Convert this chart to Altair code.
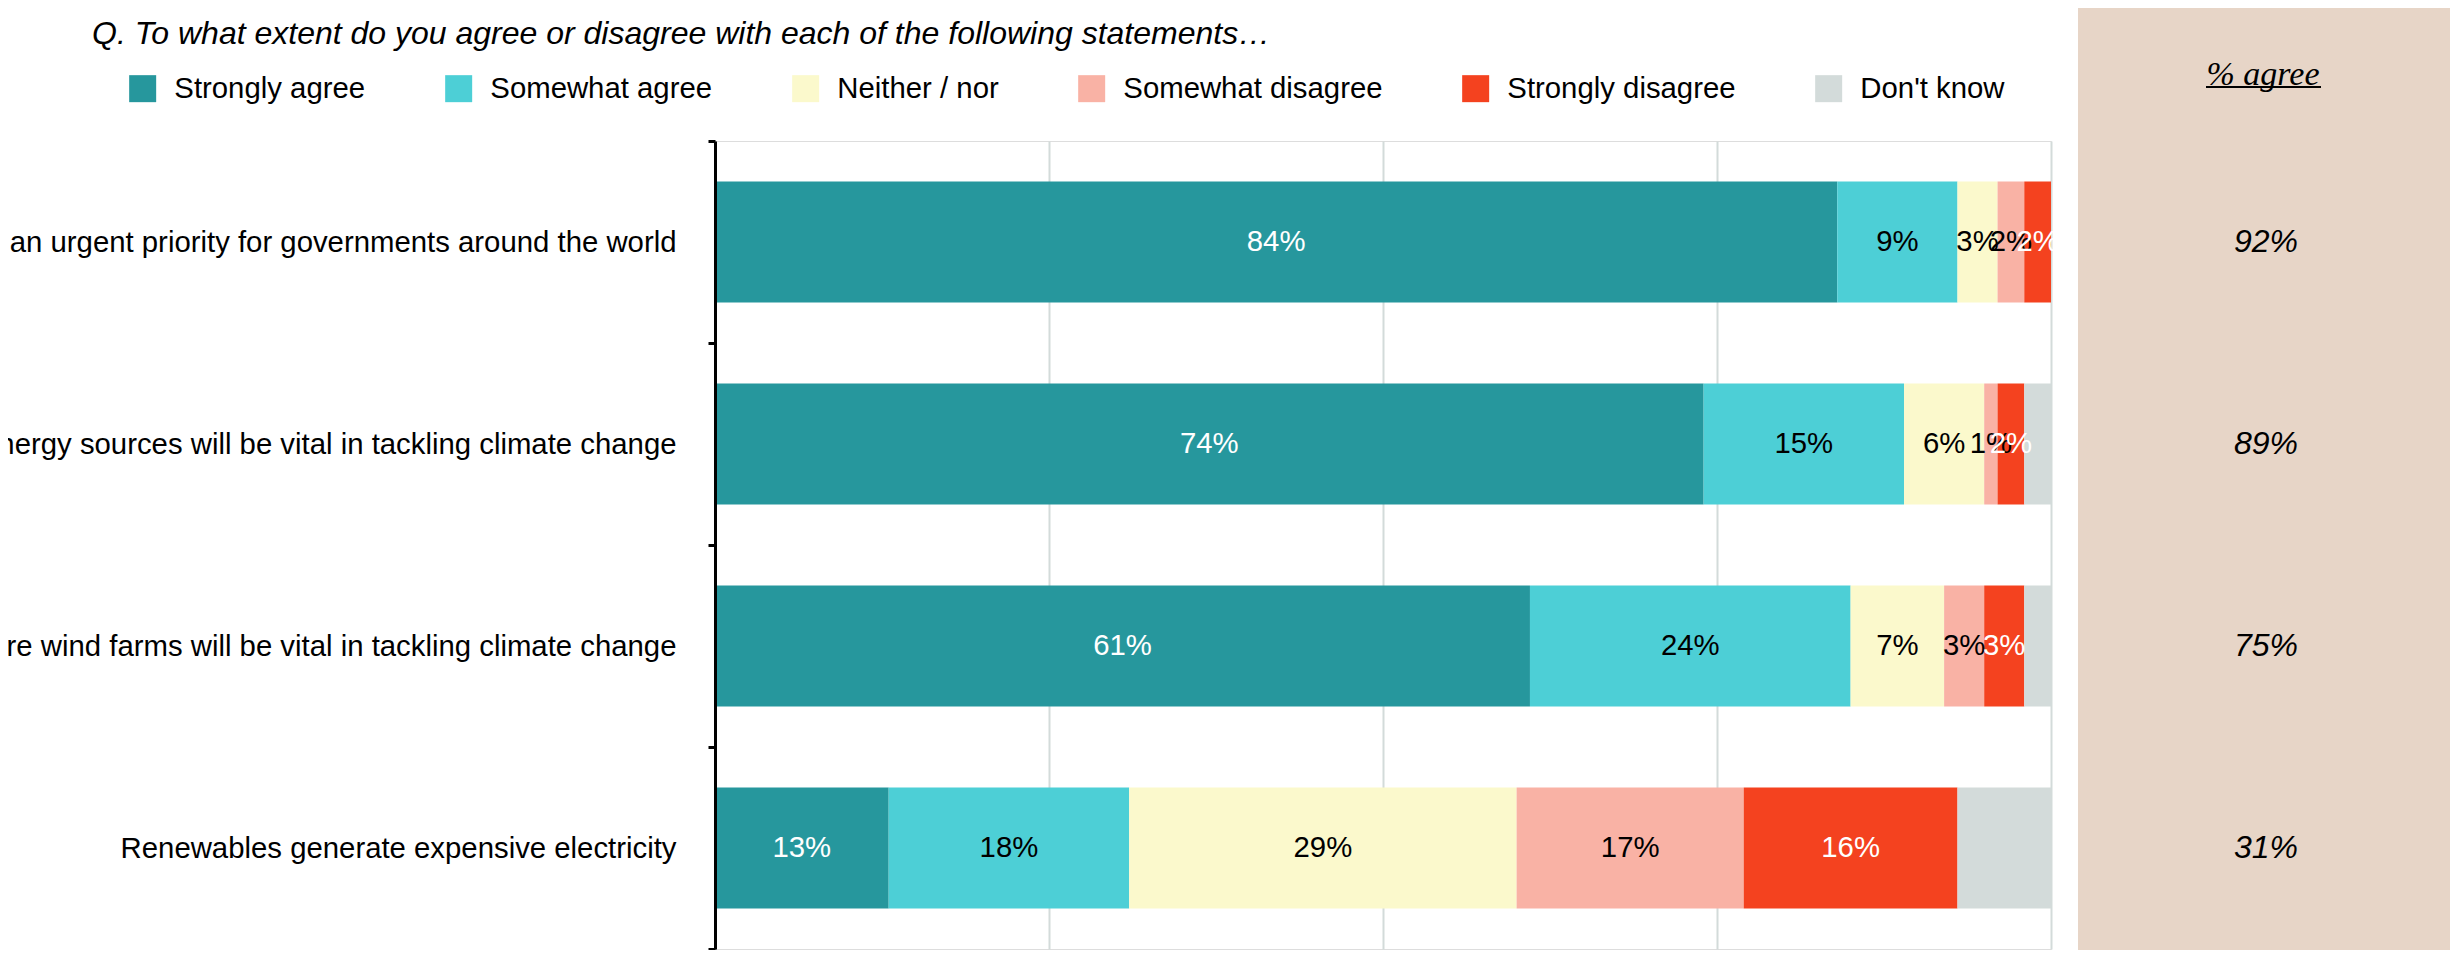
import altair as alt
import pandas as pd

# ---------------- data ----------------
statements = [
    "Tackling climate change should be an urgent priority for governments around the world",
    "Investing in renewable energy sources will be vital in tackling climate change",
    "Building more offshore wind farms will be vital in tackling climate change",
    "Renewables generate expensive electricity",
]
responses = ["Strongly agree", "Somewhat agree", "Neither / nor",
             "Somewhat disagree", "Strongly disagree", "Don't know"]

strongly_agree = [84, 74, 61, 13]
somewhat_agree = [9, 15, 24, 18]
neither_nor = [3, 6, 7, 29]
somewhat_disagree = [2, 1, 3, 17]
strongly_disagree = [2, 2, 3, 16]
dont_know = [0, 2, 2, 7]
pct_agree = [92, 89, 75, 31]

title_text = "Q. To what extent do you agree or disagree with each of the following statements\u2026"
agree_header = "% agree"

# ---------------- styles ----------------
FONT = "Liberation Sans"
colors = ["#26979d", "#4dcfd6", "#fbf9cc", "#f9b2a5", "#f4421f", "#d3dbda"]
TAN = "#e7d5c7"
GRID = "#d3dbda"

series = [strongly_agree, somewhat_agree, neither_nor,
          somewhat_disagree, strongly_disagree, dont_know]
rows = []
for i, s in enumerate(statements):
    for j, r in enumerate(responses):
        rows.append({"statement": s, "response": r, "order": j, "value": series[j][i]})
df = pd.DataFrame(rows)
agree_df = pd.DataFrame({"statement": statements, "agree": pct_agree})
head_df = pd.DataFrame({"h": [agree_header]})

xscale = alt.Scale(domain=[0, 100], nice=False, zero=True)
xaxis = alt.Axis(title=None, labels=False, ticks=False, domain=False, grid=True,
                 gridColor=GRID, gridWidth=2, values=[0, 25, 50, 75, 100])
y_enc = alt.Y(
    "statement:N", sort=statements,
    scale=alt.Scale(paddingInner=0, paddingOuter=0),
    axis=alt.Axis(title=None, domainColor="black", domainWidth=3, tickColor="black",
                  tickWidth=3, tickSize=7, tickBand="extent", labelFont=FONT,
                  labelFontSize=29.33, labelColor="black", labelPadding=32,
                  labelLimit=0, grid=False, zindex=1),
)

stacked = alt.Chart(df).transform_stack(
    stack="value", groupby=["statement"], as_=["x0", "x1"],
    sort=[alt.SortField(field="order", order="ascending")],
)

bars = stacked.mark_bar(height=alt.RelativeBandSize(0.6)).encode(
    x=alt.X("x0:Q", scale=xscale, axis=xaxis),
    x2="x1:Q",
    y=y_enc,
    color=alt.Color(
        "response:N", sort=responses,
        scale=alt.Scale(domain=responses, range=colors),
        legend=alt.Legend(
            orient="none", legendX=-587, legendY=-67, direction="horizontal",
            title=None, symbolType="square", symbolSize=729, symbolStrokeWidth=0,
            symbolOpacity=1, labelFont=FONT, labelFontSize=29.33, labelColor="black",
            labelOffset=17, columnPadding=78, padding=0, labelLimit=0,
        ),
    ),
)

labels = stacked.transform_filter("datum.order < 5 && datum.value > 0").transform_calculate(
    mid="(datum.x0 + datum.x1) / 2", lbl="datum.value + '%'"
).mark_text(font=FONT, fontSize=29.33, align="center", baseline="middle").encode(
    x=alt.X("mid:Q", scale=xscale, axis=xaxis),
    y=y_enc,
    text="lbl:N",
    color=alt.condition("datum.order == 0 || datum.order == 4",
                        alt.value("white"), alt.value("black")),
)

panel = alt.Chart(head_df).mark_rect(color=TAN).encode(
    x=alt.value(1363), x2=alt.value(1735), y=alt.value(-133), y2=alt.value(809)
)

agree_text = alt.Chart(agree_df).transform_calculate(lbl="datum.agree + '%'").mark_text(
    font=FONT, fontSize=32, fontStyle="italic", color="black", align="center", baseline="middle"
).encode(x=alt.value(1551), y=y_enc, text="lbl:N")

header = alt.Chart(head_df).mark_text(
    font="Liberation Serif", fontSize=34, fontStyle="italic", color="black",
    align="center", baseline="alphabetic"
).encode(x=alt.value(1548), y=alt.value(-56), text="h:N")

underline = alt.Chart(head_df).mark_rule(color="black", strokeWidth=2).encode(
    x=alt.value(1491), x2=alt.value(1606), y=alt.value(-54)
)

chart = alt.layer(panel, bars, labels, agree_text, header, underline).properties(
    width=1336, height=808,
    autosize=alt.AutoSizeParams(type="none"),
    padding={"left": 707, "top": 133, "right": 399, "bottom": 1},
    title=alt.TitleParams(
        text=title_text, anchor="start", frame="group", font=FONT, fontSize=32,
        fontStyle="italic", fontWeight="normal", color="black", dx=-623, dy=47,
    ),
).configure_view(stroke=None).configure(font=FONT, background="white")

chart.save("out.html", embed_options={"renderer": "svg", "actions": False})
